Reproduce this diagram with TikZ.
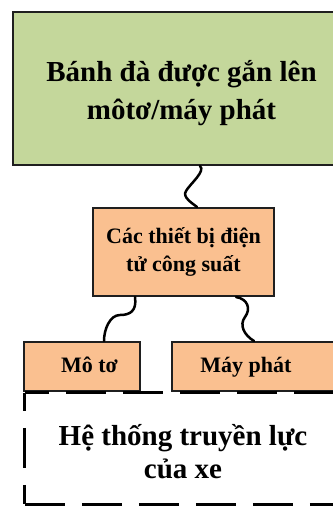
\documentclass[tikz,border=0pt]{standalone}
\usepackage{fontspec}
\setmainfont{Liberation Serif}
\definecolor{boxgreen}{RGB}{196,215,155}
\definecolor{boxorange}{RGB}{250,192,144}
\begin{document}
\begin{tikzpicture}[x=1pt,y=-1pt,
  box/.style={draw=black!88, line width=2pt, font=\bfseries, align=center, inner sep=0pt},
  wire/.style={line width=2.5pt, black, line cap=round},
  dashline/.style={line width=3.3pt, black, dash pattern=on 40pt off 17pt},
  bigtext/.style={font=\bfseries\fontsize{29}{38}\selectfont},
  midtext/.style={font=\bfseries\fontsize{22}{28}\selectfont},
  smallbox/.style={box, midtext, fill=boxorange, minimum height=49pt, text height=16pt, text depth=5pt}]
\useasboundingbox (0,0) rectangle (332,506);
\node[box, fill=boxgreen, minimum width=337pt, minimum height=153pt,
  label={[bigtext, align=center, yshift=-5pt]center:{Bánh đà được gắn lên\\môtơ/máy phát}}] (fly) at (181.5,88.5) {};
\node[box, midtext, fill=boxorange, minimum width=181pt, minimum height=88pt] (pe) at (183.5,252) {Các thiết bị điện\\tử công suất};
\node[smallbox, minimum width=116pt] (mot) at (82,366.5) {\hspace*{15pt}Mô tơ};
\node[smallbox, minimum width=200pt] (gen) at (272,366.5) {Máy phát\hspace*{52pt}};
\node[minimum width=316pt, minimum height=111pt, inner sep=0pt,
  label={[align=center, font=\bfseries\fontsize{29}{33}\selectfont, yshift=-3pt]center:{Hệ thống truyền lực\\của xe}}] (dt) at (183,448.5) {};
\draw[dashline, dash phase=16pt] (dt.north west) -- (dt.north east);
\draw[dashline, dash phase=22pt] (dt.north west) -- (dt.south west);
\draw[dashline] (dt.south west) -- (dt.south east);
\draw[wire] ([xshift=18.5pt]fly.south) .. controls +(6,5) and +(4,-7) .. ++(-14,25) .. controls +(-4,6) and +(-5,-4) .. ([xshift=13.5pt]pe.north);
\draw[wire] ([xshift=-48.5pt]pe.south) .. controls +(2,14) and +(10,0) .. ++(-15,18) .. controls +(-10,0) and +(0,-12) .. ([xshift=22pt]mot.north);
\draw[wire] ([xshift=52.5pt]pe.south) .. controls +(12,2) and +(6,-8) .. ++(9,20) .. controls +(-6,8) and +(-10,-6) .. ([xshift=83pt]gen.north west);
\end{tikzpicture}
\end{document}
